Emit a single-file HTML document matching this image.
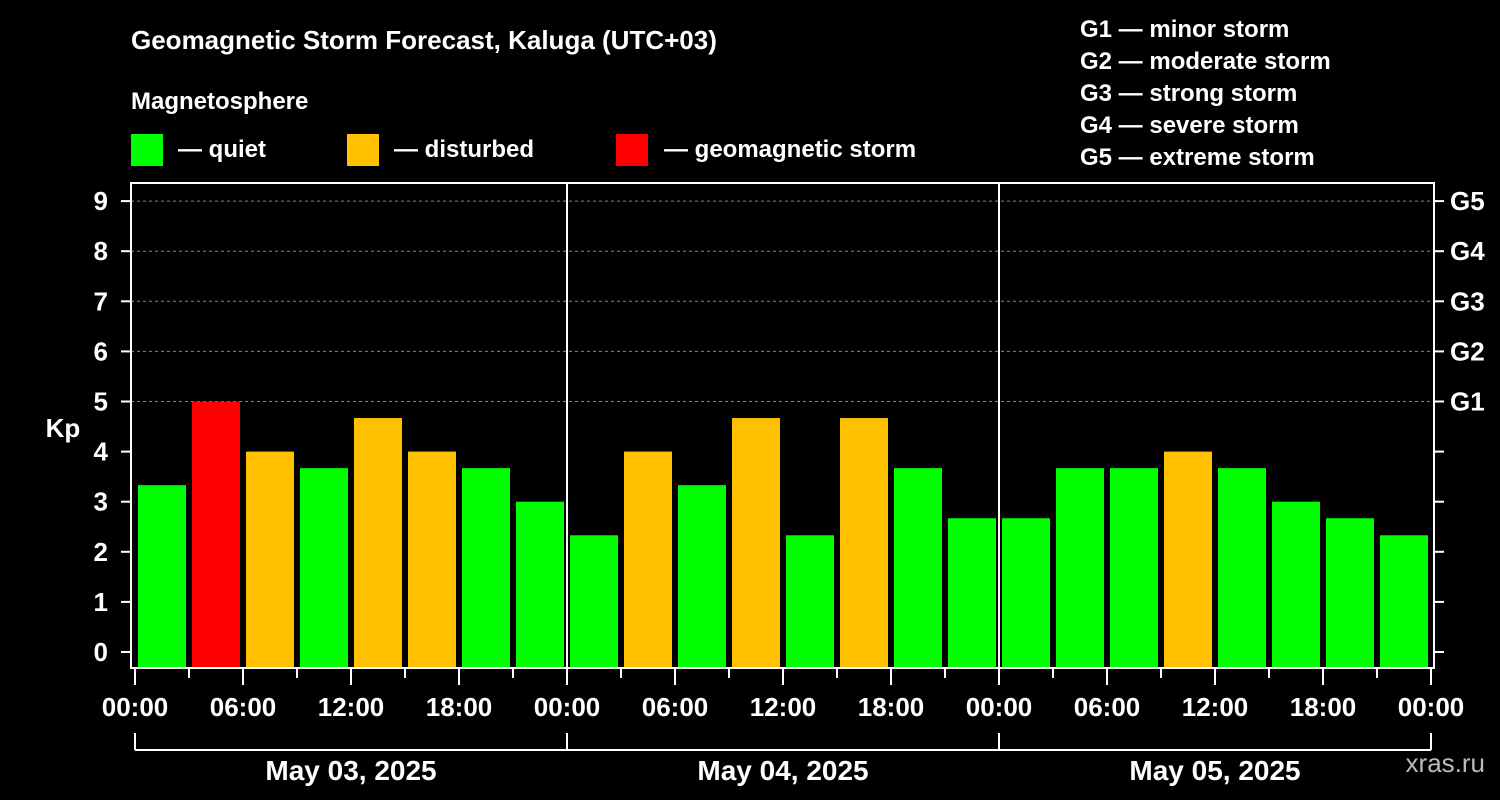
<!DOCTYPE html>
<html><head><meta charset="utf-8"><style>
body{margin:0;background:#000;}
svg{display:block;font-family:"Liberation Sans",Arial,sans-serif;font-weight:bold;}
</style></head><body>
<svg id="c" width="1500" height="800" viewBox="0 0 1500 800">
<rect width="1500" height="800" fill="#000"/>
<text x="131" y="49" fill="#fff" font-size="26">Geomagnetic Storm Forecast, Kaluga (UTC+03)</text>
<text x="131" y="109" fill="#fff" font-size="24">Magnetosphere</text>
<g><rect x="131" y="134" width="32" height="32" fill="#00ff00"/><text x="178" y="157" fill="#fff" font-size="24">— quiet</text></g>
<g><rect x="347" y="134" width="32" height="32" fill="#ffc000"/><text x="394" y="157" fill="#fff" font-size="24">— disturbed</text></g>
<g><rect x="616" y="134" width="32" height="32" fill="#ff0000"/><text x="664" y="157" fill="#fff" font-size="24">— geomagnetic storm</text></g>
<g fill="#fff" font-size="24">
<text x="1080" y="37">G1 — minor storm</text><text x="1080" y="69">G2 — moderate storm</text><text x="1080" y="101">G3 — strong storm</text><text x="1080" y="133">G4 — severe storm</text><text x="1080" y="165">G5 — extreme storm</text></g>
<text x="63" y="437" fill="#fff" font-size="26" text-anchor="middle">Kp</text>
<text x="1485" y="772" fill="#bbb" font-size="26" text-anchor="end" font-weight="normal">xras.ru</text>
<g id="grid"></g><g id="bars"></g><g id="axes"></g>
</svg>
<script>
const days=["May 03, 2025","May 04, 2025","May 05, 2025"];
const kpValues=[3.33,5,4,3.67,4.67,4,3.67,3, 2.33,4,3.33,4.67,2.33,4.67,3.67,2.67, 2.67,3.67,3.67,4,3.67,3,2.67,2.33];
const yTicks=[0,1,2,3,4,5,6,7,8,9];
const gLabels=["G1","G2","G3","G4","G5"];
const hourLabels=["00:00","06:00","12:00","18:00"];
const NS="http://www.w3.org/2000/svg";
const X0=135,DAYW=432,yS=v=>652-v*50.1;
const xS=h=>X0+h*(DAYW/24);
function mk(t,a,p){const e=document.createElementNS(NS,t);for(const k in a)e.setAttribute(k,a[k]);p.appendChild(e);return e;}
const grid=document.getElementById('grid'),bars=document.getElementById('bars'),ax=document.getElementById('axes');
[5,6,7,8,9].forEach(v=>{const l=mk('line',{x1:131,x2:1434,y1:yS(v),y2:yS(v),stroke:'#888','stroke-dasharray':'3,3','stroke-width':1},grid);

});
kpValues.forEach((v,i)=>{const c=v>=5?'#ff0000':v>=4?'#ffc000':'#00ff00';
const r=mk('rect',{x:xS(i*3)+3,y:yS(v),width:48,height:668-yS(v),fill:c},bars);

});
const fr=mk('rect',{x:131,y:183,width:1303,height:485,fill:'none',stroke:'#fff','stroke-width':2},ax);


for(let d=1;d<days.length;d++){const l=mk('line',{x1:xS(24*d),x2:xS(24*d),y1:183,y2:668,stroke:'#fff','stroke-width':2},ax);

}
yTicks.forEach(v=>{mk('line',{x1:121,x2:131,y1:yS(v),y2:yS(v),stroke:'#fff','stroke-width':2},ax);
mk('line',{x1:1434,x2:1444,y1:yS(v),y2:yS(v),stroke:'#fff','stroke-width':2},ax);
const t=mk('text',{x:108,y:yS(v)+9,fill:'#fff','font-size':26,'text-anchor':'end'},ax);t.textContent=v;

});
gLabels.forEach((g,i)=>{const t=mk('text',{x:1450,y:yS(5+i)+9,fill:'#fff','font-size':26},ax);t.textContent=g;

});
for(let h=0;h<=24*days.length;h+=3){mk('line',{x1:xS(h),x2:xS(h),y1:669,y2:h%6==0?685:678,stroke:'#fff','stroke-width':2},ax);
if(h%6==0){const t=mk('text',{x:xS(h),y:716,fill:'#fff','font-size':26,'text-anchor':'middle'},ax);t.textContent=hourLabels[(h/6)%4];

}}
mk('line',{x1:xS(0),x2:xS(24*days.length),y1:750,y2:750,stroke:'#fff','stroke-width':2},ax);
for(let d=0;d<=days.length;d++)mk('line',{x1:xS(24*d),x2:xS(24*d),y1:733,y2:750,stroke:'#fff','stroke-width':2},ax);
days.forEach((s,d)=>{const t=mk('text',{x:xS(24*d+12),y:780,fill:'#fff','font-size':28,'text-anchor':'middle'},ax);t.textContent=s;

});
</script>
</body></html>
